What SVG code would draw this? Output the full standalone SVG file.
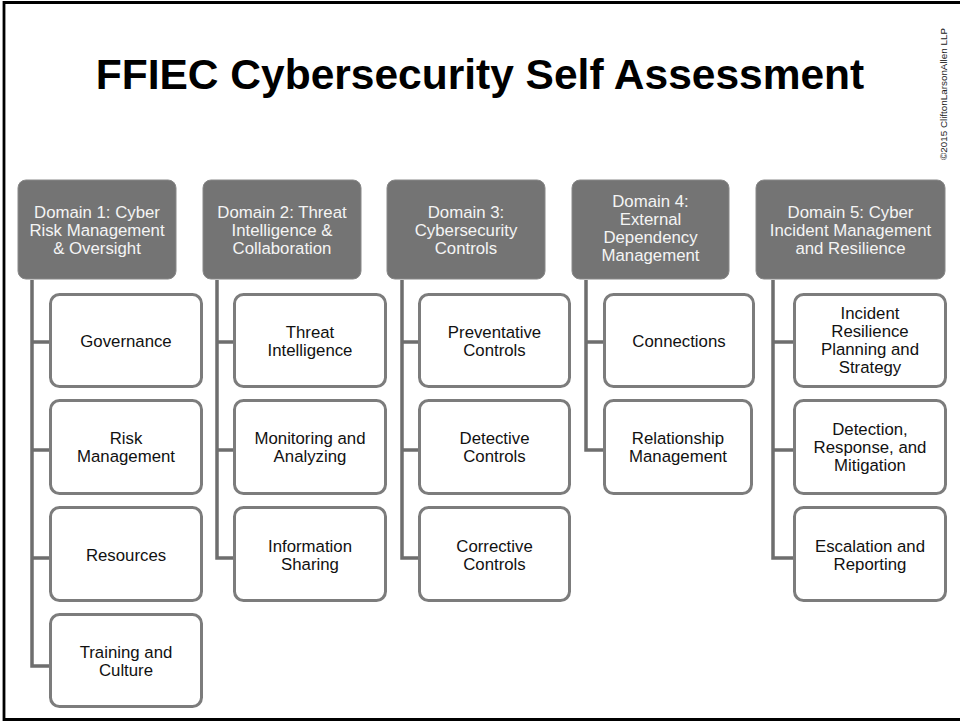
<svg xmlns="http://www.w3.org/2000/svg" width="960" height="721" viewBox="0 0 960 721">
  <style>
    .title { font-family: "Liberation Sans", Arial, sans-serif; font-weight: bold; font-size: 42.5px; fill: #000; }
    .copy { font-family: "Liberation Sans", Arial, sans-serif; font-size: 8.6px; fill: #222; }
    .domain rect { fill: #747474; stroke: #888888; stroke-width: 1; }
    .domain text { font-family: "Liberation Sans", Arial, sans-serif; font-size: 16.8px; fill: #f4f4f4; text-anchor: middle; }
    .item rect { fill: #ffffff; stroke: #7c7c7c; stroke-width: 3; }
    .item text { font-family: "Liberation Sans", Arial, sans-serif; font-size: 16.8px; fill: #111111; text-anchor: middle; }
    .connectors path { fill: none; stroke: #6e6e6e; stroke-width: 3.5; }
  </style>

  <rect width="960" height="721" fill="#ffffff"/>
  <!-- slide frame -->
  <path d="M960 2.5 H4 V719.5 H960" fill="none" stroke="#000" stroke-width="2.8"/>

  <text class="title" x="480" y="89" text-anchor="middle">FFIEC Cybersecurity Self Assessment</text>
  <text class="copy" transform="translate(947 160) rotate(-90)" textLength="132" lengthAdjust="spacingAndGlyphs">©2015 CliftonLarsonAllen  LLP</text>

  <!-- tree connectors -->
  <g id="connectors" class="connectors">
    <path d="M32 280 V666 H49 M32 342 H49 M32 450 H49 M32 558 H49"/>
    <path d="M217 280 V558 H233 M217 342 H233 M217 450 H233"/>
    <path d="M402 280 V558 H418 M402 342 H418 M402 450 H418"/>
    <path d="M586 280 V450 H603 M586 342 H603"/>
    <path d="M773 280 V558 H793 M773 342 H793 M773 450 H793"/>
  </g>

  <!-- domain headers -->
  <g id="domain1" class="domain">
    <rect x="18" y="180" width="158" height="99" rx="8"/>
    <text x="97" y="218">Domain 1: Cyber</text>
    <text x="97" y="236">Risk Management</text>
    <text x="97" y="254">&amp; Oversight</text>
  </g>
  <g id="domain2" class="domain">
    <rect x="203" y="180" width="158" height="99" rx="8"/>
    <text x="282" y="218">Domain 2: Threat</text>
    <text x="282" y="236">Intelligence &amp;</text>
    <text x="282" y="254">Collaboration</text>
  </g>
  <g id="domain3" class="domain">
    <rect x="387" y="180" width="158" height="99" rx="8"/>
    <text x="466" y="218">Domain 3:</text>
    <text x="466" y="236">Cybersecurity</text>
    <text x="466" y="254">Controls</text>
  </g>
  <g id="domain4" class="domain">
    <rect x="572" y="180" width="157" height="99" rx="8"/>
    <text x="650.5" y="207">Domain 4:</text>
    <text x="650.5" y="225">External</text>
    <text x="650.5" y="243">Dependency</text>
    <text x="650.5" y="261">Management</text>
  </g>
  <g id="domain5" class="domain">
    <rect x="756" y="180" width="189" height="99" rx="8"/>
    <text x="850.5" y="218">Domain 5: Cyber</text>
    <text x="850.5" y="236">Incident Management</text>
    <text x="850.5" y="254">and Resilience</text>
  </g>

  <!-- Domain 1 components -->
  <g id="governance" class="item">
    <rect x="50.5" y="294.5" width="151" height="92" rx="9"/>
    <text x="126" y="347">Governance</text>
  </g>
  <g id="risk-management" class="item">
    <rect x="50.5" y="400.5" width="151" height="93" rx="9"/>
    <text x="126" y="444">Risk</text>
    <text x="126" y="462">Management</text>
  </g>
  <g id="resources" class="item">
    <rect x="50.5" y="507.5" width="151" height="93" rx="9"/>
    <text x="126" y="561">Resources</text>
  </g>
  <g id="training" class="item">
    <rect x="50.5" y="614.5" width="151" height="92" rx="9"/>
    <text x="126" y="658">Training and</text>
    <text x="126" y="676">Culture</text>
  </g>

  <!-- Domain 2 components -->
  <g id="threat-intelligence" class="item">
    <rect x="234.5" y="294.5" width="151" height="92" rx="9"/>
    <text x="310" y="338">Threat</text>
    <text x="310" y="356">Intelligence</text>
  </g>
  <g id="monitoring" class="item">
    <rect x="234.5" y="400.5" width="151" height="93" rx="9"/>
    <text x="310" y="444">Monitoring and</text>
    <text x="310" y="462">Analyzing</text>
  </g>
  <g id="info-sharing" class="item">
    <rect x="234.5" y="507.5" width="151" height="93" rx="9"/>
    <text x="310" y="552">Information</text>
    <text x="310" y="570">Sharing</text>
  </g>

  <!-- Domain 3 components -->
  <g id="preventative" class="item">
    <rect x="419.5" y="294.5" width="150" height="92" rx="9"/>
    <text x="494.5" y="338">Preventative</text>
    <text x="494.5" y="356">Controls</text>
  </g>
  <g id="detective" class="item">
    <rect x="419.5" y="400.5" width="150" height="93" rx="9"/>
    <text x="494.5" y="444">Detective</text>
    <text x="494.5" y="462">Controls</text>
  </g>
  <g id="corrective" class="item">
    <rect x="419.5" y="507.5" width="150" height="93" rx="9"/>
    <text x="494.5" y="552">Corrective</text>
    <text x="494.5" y="570">Controls</text>
  </g>

  <!-- Domain 4 components -->
  <g id="connections" class="item">
    <rect x="604.5" y="294.5" width="149" height="92" rx="9"/>
    <text x="679" y="347">Connections</text>
  </g>
  <g id="relationship" class="item">
    <rect x="604.5" y="400.5" width="147" height="93" rx="9"/>
    <text x="678" y="444">Relationship</text>
    <text x="678" y="462">Management</text>
  </g>

  <!-- Domain 5 components -->
  <g id="incident-resilience" class="item">
    <rect x="794.5" y="294.5" width="151" height="92" rx="9"/>
    <text x="870" y="319">Incident</text>
    <text x="870" y="337">Resilience</text>
    <text x="870" y="355">Planning and</text>
    <text x="870" y="373">Strategy</text>
  </g>
  <g id="detection" class="item">
    <rect x="794.5" y="400.5" width="151" height="93" rx="9"/>
    <text x="870" y="435">Detection,</text>
    <text x="870" y="453">Response, and</text>
    <text x="870" y="471">Mitigation</text>
  </g>
  <g id="escalation" class="item">
    <rect x="794.5" y="507.5" width="151" height="93" rx="9"/>
    <text x="870" y="552">Escalation and</text>
    <text x="870" y="570">Reporting</text>
  </g>
</svg>
